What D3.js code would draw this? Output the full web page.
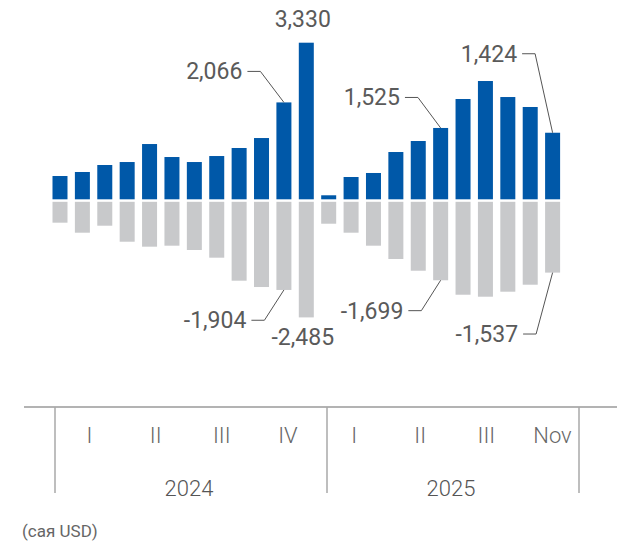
<!DOCTYPE html>
<html>
<head>
<meta charset="utf-8">
<script src="https://cdn.jsdelivr.net/npm/d3@7"></script>
<style>
  html, body { margin: 0; padding: 0; background: #fff; }
  svg { display: block; font-family: Roboto, "Noto Sans", sans-serif; }
</style>
</head>
<body>
<svg id="chart" width="617" height="543"></svg>
<script>
// Monthly inflows (positive) and outflows (negative), million USD
const months = [
  "2024-01","2024-02","2024-03","2024-04","2024-05","2024-06",
  "2024-07","2024-08","2024-09","2024-10","2024-11","2024-12",
  "2025-01","2025-02","2025-03","2025-04","2025-05","2025-06",
  "2025-07","2025-08","2025-09","2025-10","2025-11"
];
const inflows = [
  508, 593, 741, 804, 1185, 910, 804, 931, 1101, 1312, 2066, 3330,
  100, 487, 572, 1016, 1249, 1525, 2138, 2519, 2180, 1969, 1424
];
const outflows = [
  -480, -692, -544, -883, -988, -967, -1058, -1221, -1708, -1842, -1904, -2485,
  -502, -692, -967, -1249, -1497, -1699, -2005, -2047, -1941, -1793, -1537
];
const periodLabels = ["I", "II", "III", "IV", "I", "II", "III", "Nov"];
const years = ["2024", "2025"];
const unitLabel = "(сая USD)";

// Values that carry a callout: [month, series]
const callouts = [
  ["2024-11", "in"], ["2024-12", "in"], ["2025-06", "in"], ["2025-11", "in"],
  ["2024-11", "out"], ["2024-12", "out"], ["2025-06", "out"], ["2025-11", "out"]
];

const svg = d3.select("#chart");
const BLUE = "#0058a8", GREY = "#c8c9cb", TEXT = "#5a5a5a", AXIS = "#9a9a9a";

const x = d3.scaleBand().domain(months).range([48.8, 563.8])
  .paddingInner(0.33).paddingOuter(0.165);
const y = d3.scaleLinear().domain([-2485, 3330]).range([317.4, 42.7]);
const y0 = y(0);

const rows = months.map((m, i) => ({ m, inV: inflows[i], outV: outflows[i] }));

// inflow bars (blue) stop just short of zero, outflow bars (grey) start just below
svg.append("g").selectAll("rect").data(rows).join("rect")
  .attr("x", d => x(d.m)).attr("width", x.bandwidth())
  .attr("y", d => y(d.inV)).attr("height", d => y0 - 0.7 - y(d.inV))
  .attr("fill", BLUE);
svg.append("g").selectAll("rect").data(rows).join("rect")
  .attr("x", d => x(d.m)).attr("width", x.bandwidth())
  .attr("y", y0 + 1.8).attr("height", d => y(d.outV) - y0 - 1.8)
  .attr("fill", GREY);

// value callouts
const fmt = v => (v < 0 ? "-" : "") + d3.format(",")(Math.abs(v));
const leaderLayout = {
  "2024-11|in":  { dx: -23.5, dy: -31 },
  "2024-12|in":  null,
  "2025-06|in":  { dx: -22.7, dy: -30.5 },
  "2025-11|in":  { dx: -17.5, dy: -79 },
  "2024-11|out": { dx: -19.5, dy: 30.3 },
  "2024-12|out": null,
  "2025-06|out": { dx: -19.3, dy: 30.4 },
  "2025-11|out": { dx: -16.5, dy: 61.4 }
};
const gl = svg.append("g");
callouts.forEach(([m, s]) => {
  const i = months.indexOf(m);
  const v = s === "in" ? inflows[i] : outflows[i];
  const cx = x(m) + x.bandwidth() / 2;
  const cy = y(v);
  const lay = leaderLayout[m + "|" + s];
  if (lay) {
    const ex = cx + lay.dx, ey = cy + lay.dy;
    gl.append("path")
      .attr("d", `M${ex - 13},${ey}H${ex}L${cx},${cy}`)
      .attr("fill", "none").attr("stroke", "#555").attr("stroke-width", 1);
    gl.append("text").attr("x", ex - 18).attr("y", ey + 8)
      .attr("text-anchor", "end").attr("font-size", 23).attr("fill", TEXT)
      .text(fmt(v));
  } else {
    gl.append("text").attr("x", cx - 3.5)
      .attr("y", s === "in" ? cy - 16 : cy + 27.5)
      .attr("text-anchor", "middle").attr("font-size", 23).attr("fill", TEXT)
      .text(fmt(v));
  }
});

// category axis: period row and year row with dividers
const axisY = 407;
const ga = svg.append("g");
ga.append("line").attr("x1", 24).attr("x2", 617).attr("y1", axisY).attr("y2", axisY)
  .attr("stroke", AXIS).attr("stroke-width", 1.5);

const dividers = [55, 327, 579];
ga.selectAll("line.div").data(dividers).join("line").attr("class", "div")
  .attr("x1", d => d).attr("x2", d => d).attr("y1", axisY).attr("y2", 493)
  .attr("stroke", "#a8a8a8").attr("stroke-width", 1.5);

const px = d3.scalePoint().domain(d3.range(periodLabels.length)).range([89.5, 552.5]);
ga.selectAll("text.per").data(periodLabels).join("text").attr("class", "per")
  .attr("x", (d, i) => px(i)).attr("y", 442.5)
  .attr("text-anchor", "middle").attr("font-size", 22).attr("font-weight", 300)
  .attr("fill", "#666").text(d => d);

ga.selectAll("text.yr").data(years).join("text").attr("class", "yr")
  .attr("x", (d, i) => (dividers[i] + dividers[i + 1]) / 2 - 2).attr("y", 496)
  .attr("text-anchor", "middle").attr("font-size", 22).attr("font-weight", 300)
  .attr("fill", "#555").text(d => d);

svg.append("text").attr("x", 22).attr("y", 537).attr("font-size", 17)
  .attr("fill", "#666").text(unitLabel);
</script>
</body>
</html>
